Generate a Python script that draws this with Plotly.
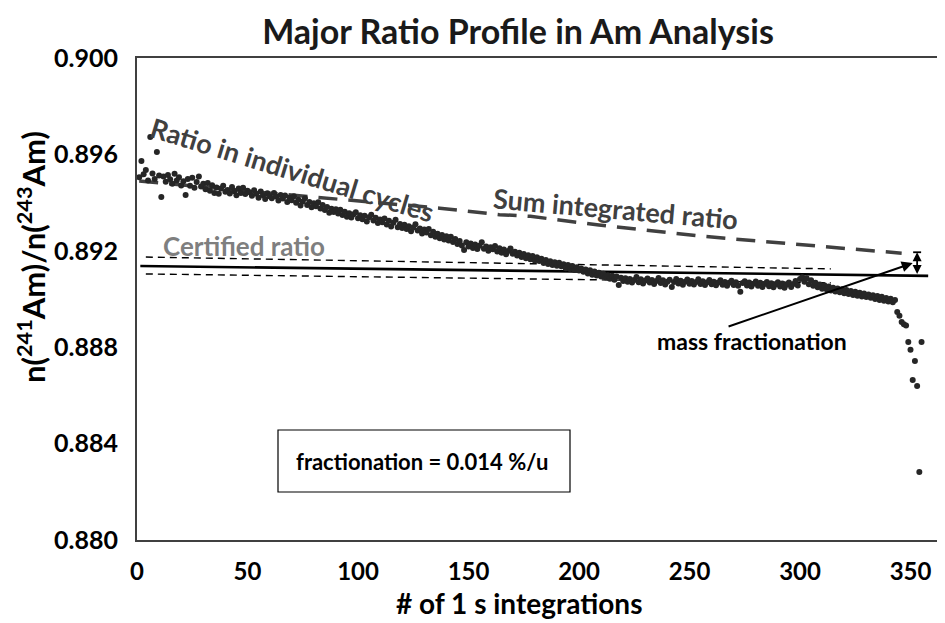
import plotly.graph_objects as go

# ---------------- data ----------------
cycles = list(range(1, 356))
ratios = [
    0.89505, 0.89573, 0.89518, 0.89535, 0.89492, 0.89672, 0.89521, 0.89498, 0.89610, 0.89512,
    0.89423, 0.89508, 0.89486, 0.89515, 0.89497, 0.89478, 0.89520, 0.89492, 0.89505, 0.89471,
    0.89489, 0.89432, 0.89498, 0.89470, 0.89503, 0.89462, 0.89485, 0.89508, 0.89467, 0.89478,
    0.89455, 0.89481, 0.89449, 0.89472, 0.89440, 0.89463, 0.89437, 0.89458, 0.89470, 0.89445,
    0.89452, 0.89438, 0.89465, 0.89447, 0.89431, 0.89458, 0.89440, 0.89462, 0.89436, 0.89449,
    0.89443, 0.89428, 0.89451, 0.89437, 0.89420, 0.89446, 0.89431, 0.89415, 0.89439, 0.89426,
    0.89418, 0.89440, 0.89425, 0.89409, 0.89432, 0.89417, 0.89429, 0.89403, 0.89421, 0.89410,
    0.89426, 0.89399, 0.89412, 0.89388, 0.89405, 0.89418, 0.89390, 0.89402, 0.89381, 0.89397,
    0.89385, 0.89401, 0.89376, 0.89390, 0.89369, 0.89382, 0.89358, 0.89375, 0.89361, 0.89372,
    0.89355, 0.89370, 0.89349, 0.89362, 0.89341, 0.89356, 0.89338, 0.89352, 0.89360, 0.89335,
    0.89348, 0.89331, 0.89345, 0.89322, 0.89339, 0.89350, 0.89326, 0.89337, 0.89315, 0.89330,
    0.89318, 0.89334, 0.89309, 0.89325, 0.89301, 0.89316, 0.89329, 0.89298, 0.89311, 0.89295,
    0.89308, 0.89290, 0.89302, 0.89281, 0.89297, 0.89310, 0.89284, 0.89293, 0.89272, 0.89288,
    0.89276, 0.89290, 0.89265, 0.89279, 0.89258, 0.89271, 0.89252, 0.89266, 0.89247, 0.89260,
    0.89243, 0.89258, 0.89236, 0.89249, 0.89228, 0.89241, 0.89222, 0.89203, 0.89235, 0.89218,
    0.89230, 0.89212, 0.89226, 0.89207, 0.89221, 0.89235, 0.89209, 0.89218, 0.89200, 0.89215,
    0.89206, 0.89220, 0.89197, 0.89211, 0.89192, 0.89205, 0.89186, 0.89199, 0.89210, 0.89188,
    0.89196, 0.89181, 0.89192, 0.89174, 0.89187, 0.89169, 0.89182, 0.89165, 0.89178, 0.89160,
    0.89173, 0.89158, 0.89167, 0.89149, 0.89162, 0.89145, 0.89157, 0.89141, 0.89152, 0.89138,
    0.89150, 0.89136, 0.89144, 0.89128, 0.89141, 0.89124, 0.89137, 0.89120, 0.89132, 0.89118,
    0.89127, 0.89113, 0.89122, 0.89106, 0.89119, 0.89101, 0.89114, 0.89097, 0.89109, 0.89093,
    0.89105, 0.89090, 0.89099, 0.89084, 0.89096, 0.89080, 0.89093, 0.89058, 0.89088, 0.89075,
    0.89086, 0.89072, 0.89083, 0.89068, 0.89079, 0.89091, 0.89070, 0.89082, 0.89064, 0.89077,
    0.89085, 0.89068, 0.89079, 0.89062, 0.89075, 0.89087, 0.89066, 0.89078, 0.89060, 0.89072,
    0.89080, 0.89050, 0.89071, 0.89083, 0.89064, 0.89076, 0.89059, 0.89072, 0.89081, 0.89063,
    0.89075, 0.89060, 0.89071, 0.89082, 0.89062, 0.89074, 0.89058, 0.89070, 0.89079, 0.89061,
    0.89072, 0.89057, 0.89068, 0.89078, 0.89059, 0.89071, 0.89055, 0.89067, 0.89076, 0.89058,
    0.89070, 0.89055, 0.89030, 0.89066, 0.89074, 0.89056, 0.89068, 0.89052, 0.89063, 0.89073,
    0.89055, 0.89067, 0.89050, 0.89062, 0.89071, 0.89053, 0.89065, 0.89049, 0.89060, 0.89069,
    0.89052, 0.89064, 0.89047, 0.89059, 0.89068, 0.89050, 0.89062, 0.89075, 0.89056, 0.89083,
    0.89090, 0.89072, 0.89086, 0.89061, 0.89078, 0.89055, 0.89067, 0.89049, 0.89060, 0.89043,
    0.89057, 0.89040, 0.89052, 0.89035, 0.89047, 0.89031, 0.89044, 0.89028, 0.89040, 0.89024,
    0.89037, 0.89021, 0.89033, 0.89017, 0.89030, 0.89014, 0.89026, 0.89010, 0.89023, 0.89008,
    0.89019, 0.89005, 0.89016, 0.89000, 0.89012, 0.88996, 0.89009, 0.88993, 0.89004, 0.88990,
    0.89001, 0.88987, 0.88996, 0.88946, 0.88930, 0.88905, 0.88895, 0.88890, 0.88822, 0.88789,
    0.88664, 0.88743, 0.88639, 0.88282, 0.88822,
]

sum_x = [1, 59, 137, 164, 178, 209, 255, 300, 346]
sum_y = [0.89490, 0.89440, 0.89377, 0.89350, 0.89343, 0.89307, 0.89261, 0.89226, 0.89190]

cert_x = [1.5, 358]
cert_y = [0.89137, 0.89096]
cert_hi_x = [4, 314]
cert_hi_y = [0.89174, 0.89125]
cert_lo_x = [4, 314]
cert_lo_y = [0.89104, 0.89067]

frac_x = 353
frac_top = 0.89194
frac_bot = 0.89097

x_ticks = [0, 50, 100, 150, 200, 250, 300, 350]
y_ticks = [0.880, 0.884, 0.888, 0.892, 0.896, 0.900]

# ---------------- layout helpers ----------------
# page body has an 8px margin: the figure is drawn 8px right/down of the window origin
OFF = 8
PAGE_W, PAGE_H = 945, 623
W, H = PAGE_W - OFF, PAGE_H - OFF
L, R, T, B = 137, 945, 58, 540  # plot area in window pixels


def px_x(px):
    return (px - L) / (R - L)


def px_y(py):
    return (B - py) / (B - T)


FONT = "Lato"
DARK = "#262626"

fig = go.Figure()

fig.add_trace(go.Scatter(x=cert_hi_x, y=cert_hi_y, mode="lines",
                         line=dict(color="black", width=1.4, dash="7px,5px"),
                         showlegend=False, hoverinfo="skip"))
fig.add_trace(go.Scatter(x=cert_lo_x, y=cert_lo_y, mode="lines",
                         line=dict(color="black", width=1.4, dash="7px,5px"),
                         showlegend=False, hoverinfo="skip"))
fig.add_trace(go.Scatter(x=cert_x, y=cert_y, mode="lines",
                         line=dict(color="black", width=2.6),
                         showlegend=False, hoverinfo="skip"))
fig.add_trace(go.Scatter(x=sum_x, y=sum_y, mode="lines",
                         line=dict(color="#404040", width=3.5, dash="19px,11px"),
                         showlegend=False, hoverinfo="skip"))
fig.add_trace(go.Scatter(x=cycles, y=ratios, mode="markers",
                         marker=dict(color=DARK, size=6),
                         showlegend=False))


def label(text, px, py, size, color="black", angle=0):
    return dict(text=text, xref="paper", yref="paper", x=px_x(px), y=px_y(py),
                xanchor="center", yanchor="middle", showarrow=False, textangle=angle,
                font=dict(family=FONT, size=size, color=color, weight="bold"))


annotations = [
    label("Ratio in individual cycles", 292, 170, 27, "#404040", 17),
    label("Sum integrated ratio", 615, 208, 27, "#404040", 5),
    label("Certified ratio", 244, 246, 26, "#7f7f7f"),
    label("mass fractionation", 752, 341, 23, "black"),
    label("fractionation = 0.014 %/u", 422, 461, 22, "black"),
    label("n(<sup>241</sup>Am)/n(<sup>243</sup>Am)", 31, 257, 31, "black", -90),
    label("# of 1 s integrations", 519, 603, 28, "black"),
    # arrow from label to the gap
    dict(text="", x=351, y=0.89149, ax=267, ay=0.88884, xref="x", yref="y",
         axref="x", ayref="y", showarrow=True, arrowhead=2, arrowsize=1.1,
         arrowwidth=2, arrowcolor="black"),
    # double arrow showing fractionation
    dict(text="", x=frac_x, y=frac_top, ax=frac_x, ay=frac_bot, xref="x", yref="y",
         axref="x", ayref="y", showarrow=True, arrowhead=2, startarrowhead=2,
         arrowside="end+start", arrowsize=1, startarrowsize=1,
         arrowwidth=1.8, arrowcolor="black"),
]

shapes = [
    dict(type="rect", xref="paper", yref="paper", x0=px_x(278), x1=px_x(570),
         y0=px_y(492), y1=px_y(430), line=dict(color="black", width=1.2)),
    dict(type="line", xref="x", yref="y", x0=frac_x - 1.8, x1=frac_x + 1.8,
         y0=frac_top, y1=frac_top, line=dict(color="black", width=1.8)),
]

fig.update_layout(
    width=W, height=H,
    margin=dict(l=L - OFF, r=PAGE_W - R, t=T - OFF, b=PAGE_H - B),
    paper_bgcolor="white", plot_bgcolor="white",
    title=dict(text="<b>Major Ratio Profile in Am Analysis</b>",
               x=(518 - OFF) / W, xanchor="center",
               y=1 - (32 - OFF) / H, yanchor="middle",
               font=dict(family=FONT, size=34, color="#1a1a1a")),
    annotations=annotations,
    shapes=shapes,
    showlegend=False,
)

fig.update_xaxes(range=[0, (R - L) / 2.21], tickvals=x_ticks,
                 ticktext=[str(v) for v in x_ticks], showgrid=False, zeroline=False,
                 showline=True, linecolor="#404040", linewidth=2, mirror=True,
                 ticks="", ticklabelstandoff=9, automargin=False,
                 tickfont=dict(family=FONT, size=24, color="black", weight="bold"))
fig.update_yaxes(range=[0.880, 0.900], tickvals=y_ticks,
                 ticktext=[f"{v:.3f}" for v in y_ticks], showgrid=False, zeroline=False,
                 showline=True, linecolor="#404040", linewidth=2, mirror=False,
                 ticks="", ticklabelstandoff=12, automargin=False,
                 tickfont=dict(family=FONT, size=25, color="black", weight="bold"))

fig.write_html("out.html")
